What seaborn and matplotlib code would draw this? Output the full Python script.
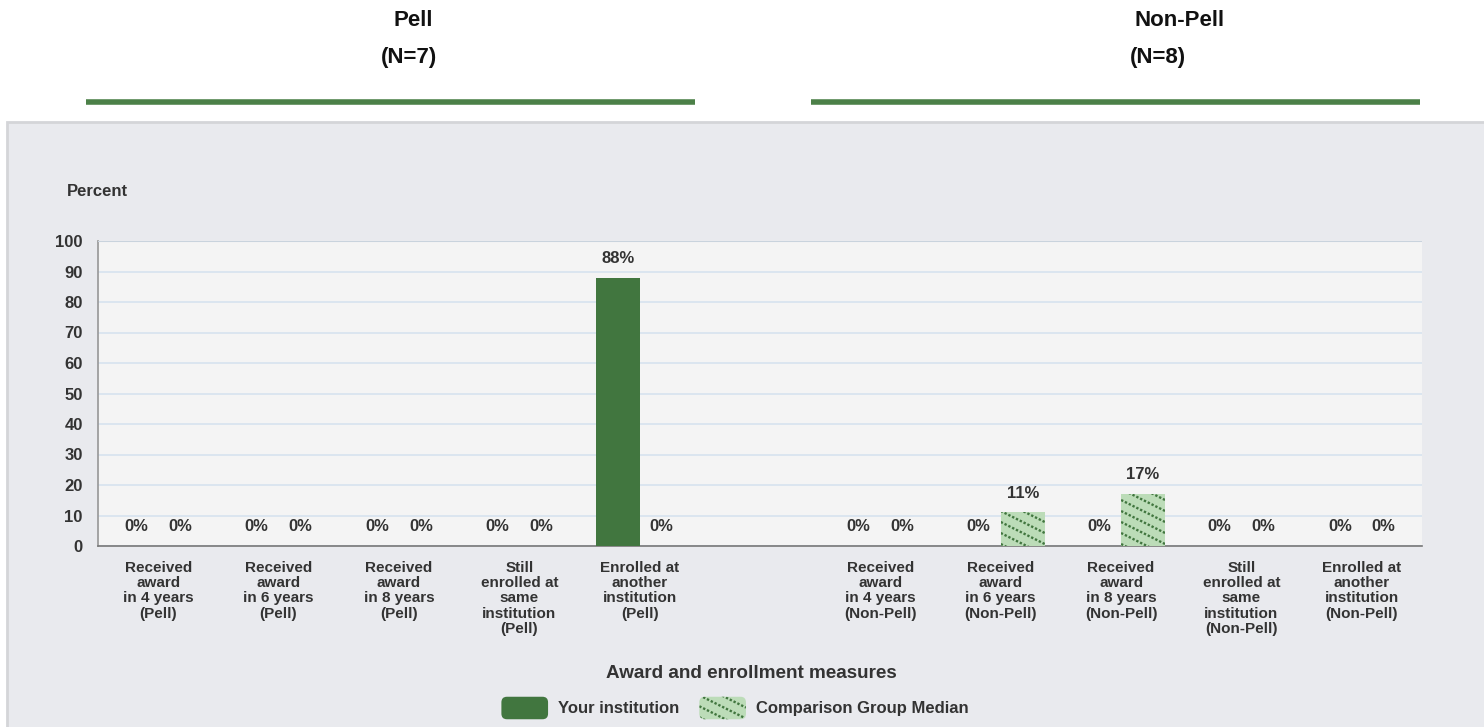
import numpy as np
import pandas as pd
import matplotlib
matplotlib.use("Agg")
import matplotlib.pyplot as plt
from matplotlib.patches import Rectangle, Patch, FancyBboxPatch
from matplotlib.legend_handler import HandlerPatch
from matplotlib.transforms import IdentityTransform
import seaborn as sns

# ---------------------------------------------------------------------------
# Data
# ---------------------------------------------------------------------------
categories = [
    "Received\naward\nin 4 years\n(Pell)",
    "Received\naward\nin 6 years\n(Pell)",
    "Received\naward\nin 8 years\n(Pell)",
    "Still\nenrolled at\nsame\ninstitution\n(Pell)",
    "Enrolled at\nanother\ninstitution\n(Pell)",
    "",
    "Received\naward\nin 4 years\n(Non-Pell)",
    "Received\naward\nin 6 years\n(Non-Pell)",
    "Received\naward\nin 8 years\n(Non-Pell)",
    "Still\nenrolled at\nsame\ninstitution\n(Non-Pell)",
    "Enrolled at\nanother\ninstitution\n(Non-Pell)",
]
your_values = [0, 0, 0, 0, 88, np.nan, 0, 0, 0, 0, 0]
median_values = [0, 0, 0, 0, 0, np.nan, 0, 11, 17, 0, 0]
series_names = ["Your institution", "Comparison Group Median"]
group_names = ["Pell", "Non-Pell"]
group_counts = ["(N=7)", "(N=8)"]
y_ticks = list(range(0, 101, 10))

DARK = "#41763f"
LIGHT = "#bcdcb8"
TEXT = "#333333"
W, H = 1484, 727

df = pd.DataFrame({
    "measure": categories * 2,
    "series": [series_names[0]] * len(categories) + [series_names[1]] * len(categories),
    "value": your_values + median_values,
})

sns.set_theme(style="white")
plt.rcParams["font.family"] = ["Liberation Sans", "DejaVu Sans"]

fig = plt.figure(figsize=(W / 100, H / 100), dpi=100)
fig.patch.set_facecolor("white")

# outer grey panel (behind the axes)
panel = Rectangle((7 / W, -0.01), 1.0, 1 - 122 / H + 0.01,
                  transform=fig.transFigure, facecolor="#e9eaee",
                  edgecolor="#d4d5d8", linewidth=2, zorder=-5)
fig.patches.append(panel)

ax = fig.add_axes([98 / W, 1 - 546 / H, (1422 - 98) / W, (546 - 241) / H])
ax.set_zorder(1)
ax.set_facecolor("#f4f4f4")

sns.barplot(data=df, x="measure", y="value", hue="series", order=categories,
            hue_order=series_names, palette=[DARK, LIGHT], width=0.73, gap=0,
            saturation=1, errorbar=None, ax=ax, legend=False, zorder=3)

# value labels (seaborn skips the NaN slot, so drop it here too)
for container, name in zip(ax.containers, series_names):
    vals = df.loc[df.series == name, "value"].dropna()
    for bar, val in zip(container, vals):
        bar.set_linewidth(0)
        ax.annotate(f"{val:.0f}%", (bar.get_x() + bar.get_width() / 2, val),
                    xytext=(0, 14), textcoords="offset points", ha="center",
                    va="center", fontsize=12, fontweight="bold", color=TEXT)

ax.set_ylim(0, 100)
ax.set_xlim(-0.5, len(categories) - 0.5)
ax.set_yticks(y_ticks)
ax.set_yticklabels([str(t) for t in y_ticks], fontsize=12, fontweight="bold", color=TEXT)
ax.yaxis.grid(True, color="#d7e3ee", linewidth=1.2, zorder=0)
ax.set_axisbelow(True)
ax.tick_params(axis="y", length=0, pad=11)

# ticks at slot boundaries, labels centred in the slots
ax.set_xticks(np.arange(-0.5, len(categories)), labels=[""] * (len(categories) + 1))
ax.set_xticks(np.arange(len(categories)), labels=categories, minor=True)
ax.tick_params(axis="x", which="major", length=8, width=1.2, color="#777777", direction="out")
ax.tick_params(axis="x", which="minor", length=0, pad=11)
for lbl in ax.get_xticklabels(minor=True):
    lbl.set_fontsize(11)
    lbl.set_fontweight("bold")
    lbl.set_color(TEXT)
    lbl.set_linespacing(1.1)
ax.set_xlabel("")
ax.set_ylabel("")

for side in ["top", "right"]:
    ax.spines[side].set_visible(False)
ax.spines["left"].set_color("#9a9a9a")
ax.spines["bottom"].set_color("#777777")
ax.spines["bottom"].set_linewidth(1.2)
ax.axhline(100, color="#c9d3dd", linewidth=1.5, zorder=4)

fig.text(67 / W, 1 - 191 / H, "Percent", fontsize=12, fontweight="bold",
         color=TEXT, va="center", ha="left")
fig.text(751 / W, 1 - 674 / H, "Award and enrollment measures", fontsize=13.6,
         fontweight="bold", color=TEXT, ha="center", va="center")

# group headers with green rules
header_x = [(413, 409), (1180, 1158)]
for name, count, (xa, xb), (x0, x1) in zip(group_names, group_counts, header_x,
                                            [(86, 695), (811, 1420)]):
    fig.text(xa / W, 1 - 21 / H, name, fontsize=16, fontweight="bold",
             color="#111111", ha="center", va="center")
    fig.text(xb / W, 1 - 57 / H, count, fontsize=16, fontweight="bold",
             color="#111111", ha="center", va="center")
    fig.add_artist(plt.Line2D([x0 / W, x1 / W], [1 - 102 / H] * 2,
                              color="#4c8048", linewidth=4, solid_capstyle="butt"))


class RoundedHandler(HandlerPatch):
    def create_artists(self, legend, orig_handle, xdescent, ydescent, width,
                       height, fontsize, trans):
        p = FancyBboxPatch((-xdescent, -ydescent), width, height,
                           boxstyle="round,pad=0,rounding_size=4",
                           facecolor=orig_handle.get_facecolor(),
                           edgecolor="none", transform=trans)
        return [p]


handles = [Patch(facecolor=DARK, label=series_names[0]),
           Patch(facecolor=LIGHT, label=series_names[1])]
leg = fig.legend(handles=handles, loc="center", bbox_to_anchor=(735 / W, 1 - 708 / H),
                 ncol=2, frameon=False, handlelength=2.8, handleheight=1.7,
                 columnspacing=1.2, handletextpad=0.6,
                 handler_map={Patch: RoundedHandler()},
                 prop={"weight": "bold", "size": 12})
for t in leg.get_texts():
    t.set_color(TEXT)


def dotted_hatch(patch, step=11, slope=0.5):
    # rows of short dark dashes running down to the right, clipped to the patch
    bb = patch.get_window_extent()
    if bb.height < 1:
        return
    c = bb.y0 + 2
    while c < bb.y1 + slope * bb.width + step:
        ln = plt.Line2D([bb.x0, bb.x1], [c, c - slope * bb.width],
                        transform=IdentityTransform(), color=DARK, linewidth=1.7,
                        linestyle=(0, (1.0, 0.8)), zorder=20)
        ln.set_clip_path(patch)
        fig.add_artist(ln)
        c += step


fig.canvas.draw()
for bar in ax.containers[1]:
    dotted_hatch(bar)
dotted_hatch(leg.legend_handles[1])

plt.savefig("out.png", dpi=100)
